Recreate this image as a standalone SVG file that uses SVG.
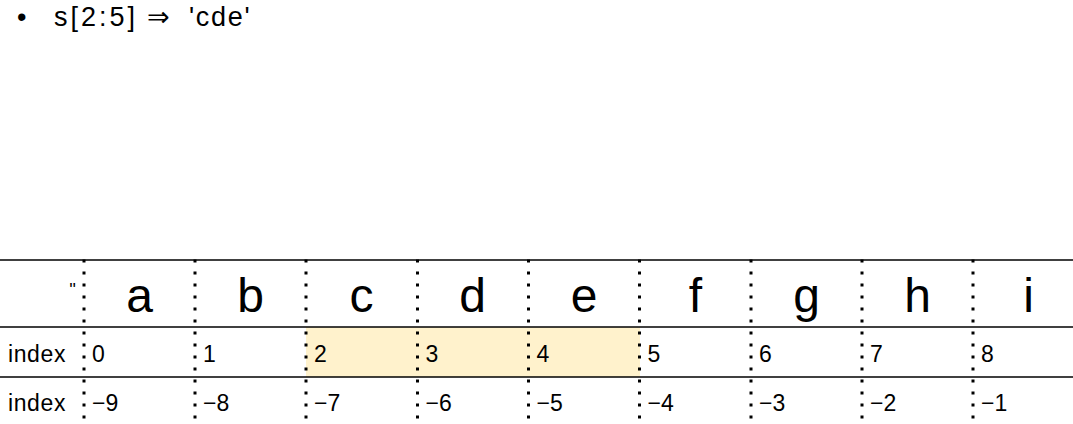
<svg xmlns="http://www.w3.org/2000/svg" width="1073" height="424" viewBox="0 0 1073 424">
<style>
text{font-family:"Liberation Sans",Arial,"DejaVu Sans",sans-serif;fill:#000}
.big{font-size:48px;text-anchor:middle}
.num{font-size:23px}
.lab{font-size:23px;letter-spacing:0.6px}
.hl{stroke:#000;stroke-width:1.5}
.dot{stroke:#000;stroke-width:3;stroke-dasharray:3 9}
</style>
<rect width="1073" height="424" fill="#fff"/>
<g id="title">
<text font-size="27" y="26"><tspan x="17">•</tspan><tspan x="54" letter-spacing="3">s[2:5]</tspan><tspan x="147" font-family="DejaVu Sans,sans-serif" font-size="27" letter-spacing="0">⇒</tspan><tspan x="189" letter-spacing="1.7">'cde'</tspan></text>
</g>
<g id="highlight"><rect x="306" y="327" width="334" height="50" fill="#fff2cc"/></g>
<g id="grid">
<line class="hl" x1="0" y1="260" x2="1073" y2="260"/>
<line class="hl" x1="0" y1="327" x2="1073" y2="327"/>
<line class="hl" x1="0" y1="377" x2="1073" y2="377"/>
<line class="dot" x1="84" y1="259.5" x2="84" y2="424"/>
<line class="dot" x1="195" y1="259.5" x2="195" y2="424"/>
<line class="dot" x1="306" y1="259.5" x2="306" y2="424"/>
<line class="dot" x1="417.5" y1="259.5" x2="417.5" y2="424"/>
<line class="dot" x1="528.5" y1="259.5" x2="528.5" y2="424"/>
<line class="dot" x1="639.5" y1="259.5" x2="639.5" y2="424"/>
<line class="dot" x1="751" y1="259.5" x2="751" y2="424"/>
<line class="dot" x1="862" y1="259.5" x2="862" y2="424"/>
<line class="dot" x1="973" y1="259.5" x2="973" y2="424"/>
</g>
<g id="header">
<text x="76" y="296" font-size="18" text-anchor="end">''</text>
<text class="big" x="139.5" y="312">a</text>
<text class="big" x="250.5" y="312">b</text>
<text class="big" x="361.5" y="312">c</text>
<text class="big" x="472.5" y="312">d</text>
<text class="big" x="584" y="312">e</text>
<text class="big" x="695.5" y="312">f</text>
<text class="big" x="806.5" y="312">g</text>
<text class="big" x="917.5" y="312">h</text>
<text class="big" x="1028.5" y="312">i</text>
</g>
<g id="row-positive">
<text class="lab" x="8" y="361.5">index</text>
<text class="num" x="92" y="361.5">0</text>
<text class="num" x="203" y="361.5">1</text>
<text class="num" x="314" y="361.5">2</text>
<text class="num" x="425.5" y="361.5">3</text>
<text class="num" x="536.5" y="361.5">4</text>
<text class="num" x="647.5" y="361.5">5</text>
<text class="num" x="759" y="361.5">6</text>
<text class="num" x="870" y="361.5">7</text>
<text class="num" x="981" y="361.5">8</text>
</g>
<g id="row-negative">
<text class="lab" x="8" y="410.5">index</text>
<text class="num" x="92" y="410.5">−9</text>
<text class="num" x="203" y="410.5">−8</text>
<text class="num" x="314" y="410.5">−7</text>
<text class="num" x="425.5" y="410.5">−6</text>
<text class="num" x="536.5" y="410.5">−5</text>
<text class="num" x="647.5" y="410.5">−4</text>
<text class="num" x="759" y="410.5">−3</text>
<text class="num" x="870" y="410.5">−2</text>
<text class="num" x="981" y="410.5">−1</text>
</g>
</svg>
